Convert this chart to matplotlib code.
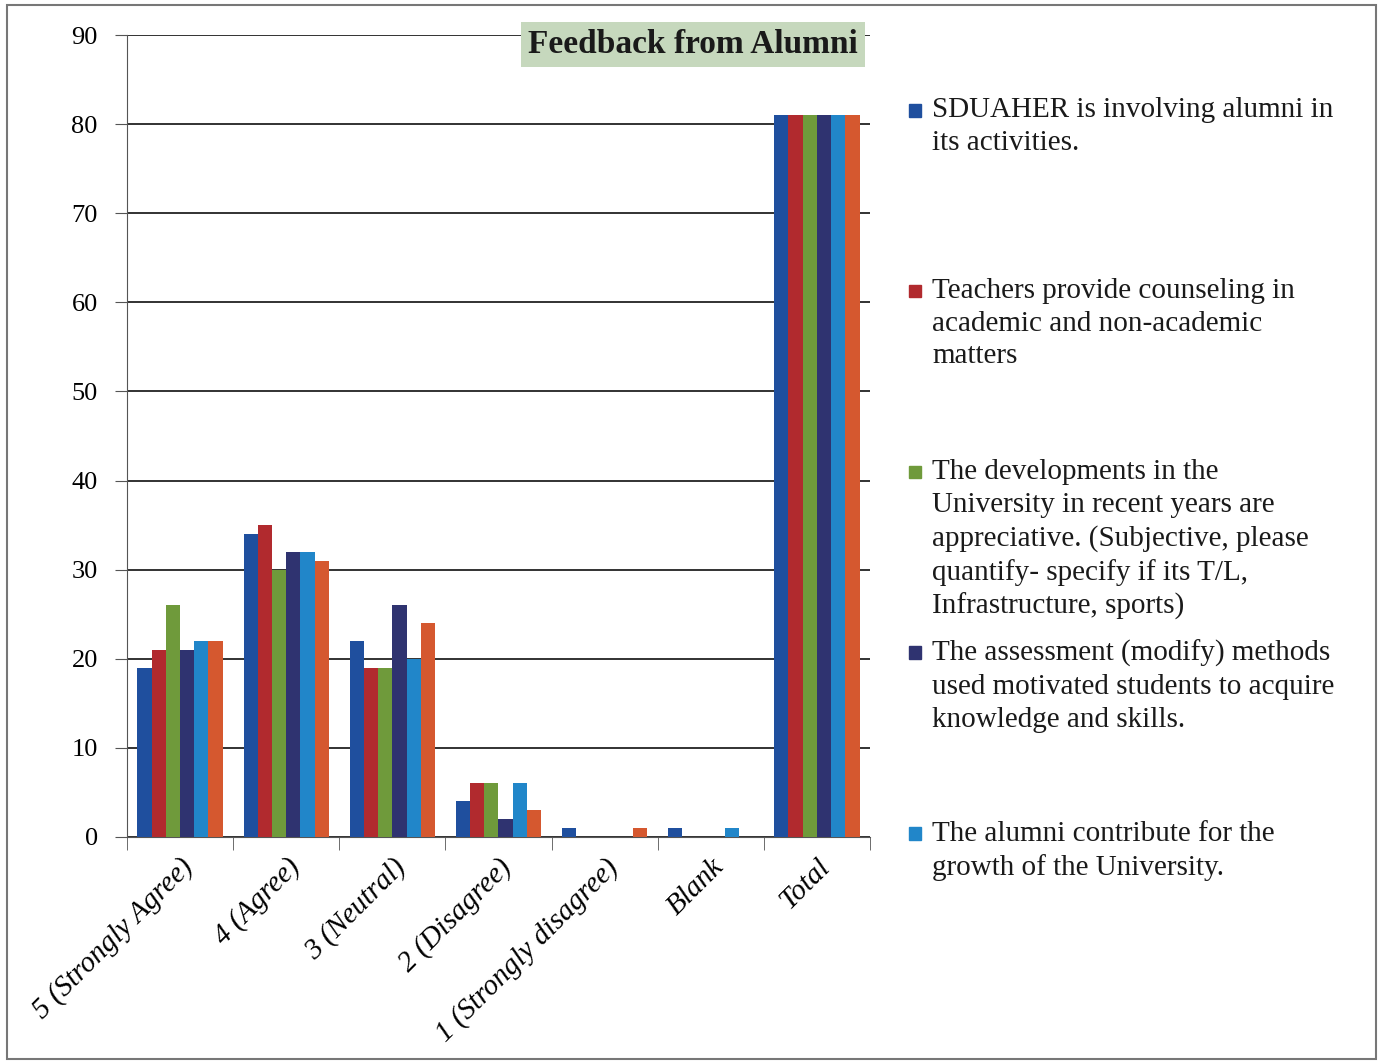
import numpy as np
import matplotlib
matplotlib.use('Agg')
import matplotlib.pyplot as plt
from matplotlib.patches import Rectangle

# data
categories = ['5 (Strongly Agree)', '4 (Agree)', '3 (Neutral)', '2 (Disagree)',
              '1 (Strongly disagree)', 'Blank', 'Total']
involving_alumni = [19, 34, 22, 4, 1, 1, 81]
counseling = [21, 35, 19, 6, 0, 0, 81]
developments = [26, 30, 19, 6, 0, 0, 81]
assessment = [21, 32, 26, 2, 0, 0, 81]
contribute = [22, 32, 20, 6, 0, 1, 81]
sixth_question = [22, 31, 24, 3, 1, 0, 81]

series = [involving_alumni, counseling, developments, assessment, contribute, sixth_question]
colors = ['#1f4f9e', '#b12a2e', '#6f9a3b', '#2f3370', '#2186c9', '#d5582f']
legend_labels = [
    'SDUAHER is involving alumni in\nits activities.',
    'Teachers provide counseling in\nacademic and non-academic\nmatters',
    'The developments in the\nUniversity in recent years are\nappreciative. (Subjective, please\nquantify- specify if its T/L,\nInfrastructure, sports)',
    'The assessment (modify) methods\nused motivated students to acquire\nknowledge and skills.',
    'The alumni contribute for the\ngrowth of the University.',
]

plt.rcParams['font.family'] = ['Liberation Serif', 'DejaVu Serif']

fig = plt.figure(figsize=(13.86, 10.64), dpi=100)
ax = fig.add_axes([0.0916, 0.2134, 0.5361, 0.7537])

x = np.arange(len(categories))
w = 0.134
for i, vals in enumerate(series):
    ax.bar(x + (i - 2.5) * w, vals, width=w, color=colors[i], zorder=3)

ax.set_xlim(-0.5, len(categories) - 0.5)
ax.set_ylim(0, 90)
ax.set_yticks(np.arange(0, 91, 10))
ax.yaxis.grid(True, color='#222222', linewidth=1.3, zorder=0)
ax.set_axisbelow(True)
for s in ['top', 'right']:
    ax.spines[s].set_visible(False)
ax.spines['left'].set_color('#555555')
ax.spines['bottom'].set_color('#555555')
ax.tick_params(axis='y', labelsize=19, length=9, color='#555555', pad=12)

ax.set_xticks(x)
ax.set_xticklabels(categories, rotation=45, ha='right', va='top',
                   rotation_mode='anchor', fontsize=21, style='italic')
ax.tick_params(axis='x', which='major', length=0, pad=12)
ax.set_xticks(np.arange(-0.5, len(categories), 1), minor=True)
ax.tick_params(axis='x', which='minor', length=9, color='#555555')

fig.text(0.5, 0.958, 'Feedback from Alumni', ha='center', va='center',
         fontsize=24, fontweight='bold', color='#1a1a1a',
         bbox=dict(facecolor='#c6d8bd', edgecolor='none', pad=5), zorder=5)

# legend, one entry every ~181 px
for i, lab in enumerate(legend_labels):
    y_mid = 0.899 - i * 0.1701
    fig.text(0.6725, y_mid + 0.010, lab, ha='left', va='top', fontsize=21,
             linespacing=1.34, color='#1a1a1a')
    fig.patches.append(Rectangle((0.6555, y_mid - 0.0085), 0.0093, 0.0122,
                                 transform=fig.transFigure, color=colors[i]))

# outer frame
fig.patches.append(Rectangle((0.005, 0.005), 0.988, 0.99, transform=fig.transFigure,
                             fill=False, edgecolor='#777777', linewidth=1.5))

fig.savefig('out.png', dpi=100)
